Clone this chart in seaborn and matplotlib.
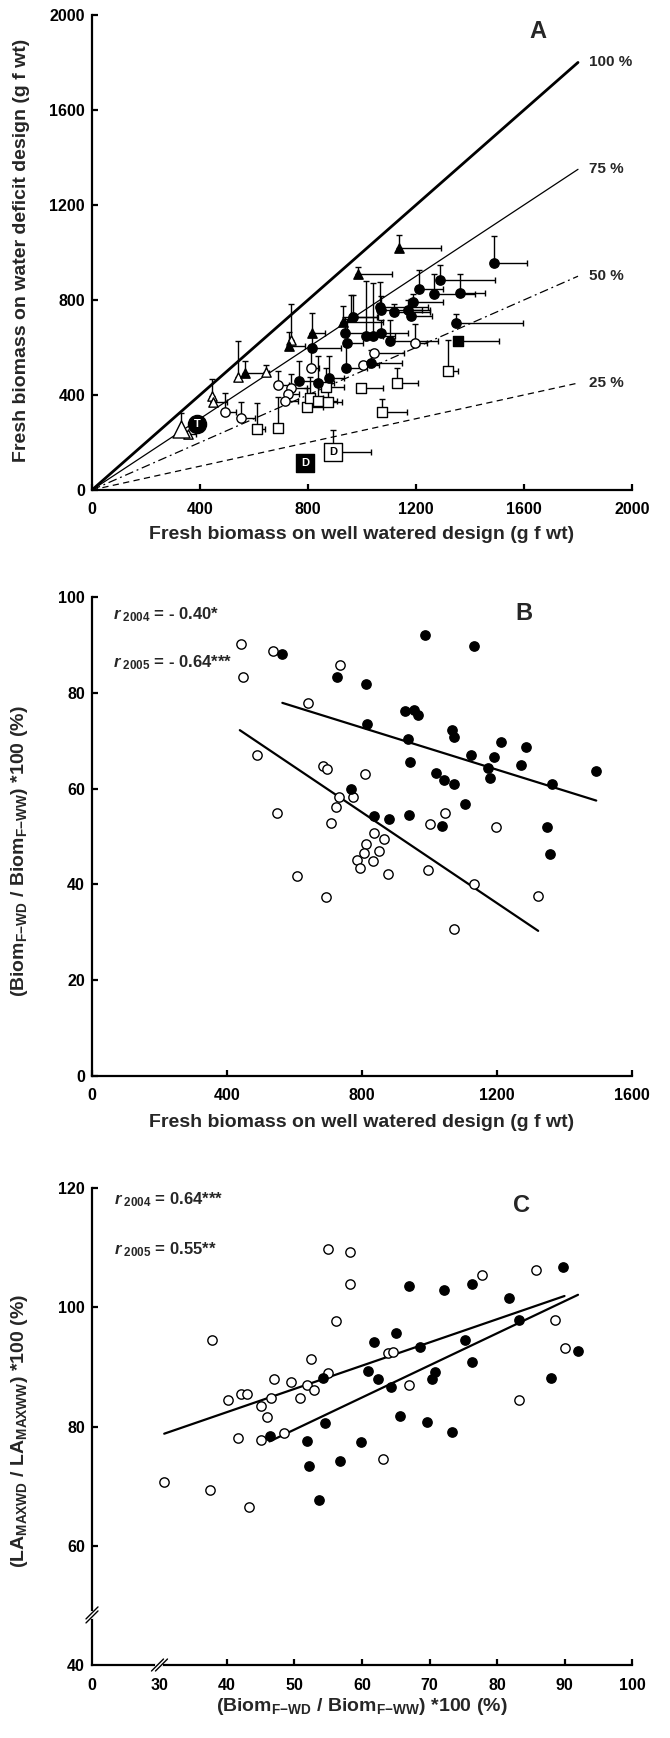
import matplotlib
matplotlib.use('Agg')
import matplotlib.pyplot as plt
import numpy as np
import seaborn as sns

sns.set_theme(style='ticks')
plt.rcParams['font.family'] = ['Liberation Sans', 'DejaVu Sans']
plt.rcParams['font.weight'] = 'bold'
plt.rcParams['mathtext.fontset'] = 'custom'
plt.rcParams['mathtext.rm'] = 'Liberation Sans:bold'
plt.rcParams['mathtext.it'] = 'Liberation Sans:italic:bold'
plt.rcParams['mathtext.bf'] = 'Liberation Sans:bold'

# ---- panel A: fresh biomass WW vs WD (x, y, right error, upper error)
a_fc_x = [768, 837, 879, 813, 939, 1034, 936, 943, 1016, 1041, 1072, 1102, 967,
          1065, 1072, 1120, 1172, 1180, 1190, 1211, 1267, 1288, 1362, 1348, 1490]
a_fc_y = [460, 452, 473, 596, 512, 536, 660, 618, 648, 648, 660, 629, 730,
          769, 758, 751, 758, 734, 793, 845, 825, 884, 831, 702, 954]
a_fc_xe = [70, 60, 55, 110, 80, 115, 130, 60, 60, 80, 100, 180, 90,
           180, 150, 130, 80, 80, 110, 90, 150, 205, 93, 247, 120]
a_fc_ye = [85, 110, 90, 65, 95, 55, 70, 100, 230, 225, 55, 85, 90,
           105, 60, 30, 40, 70, 30, 80, 85, 63, 78, 38, 115]

a_oc_x = [493, 552, 688, 737, 726, 713, 812, 1002, 1046, 1197]
a_oc_y = [330, 305, 442, 428, 404, 375, 512, 526, 575, 620]
a_oc_xe = [40, 52, 40, 60, 40, 50, 30, 60, 110, 45]
a_oc_ye = [77, 67, 60, 60, 0, 0, 80, 0, 0, 77]

a_ft_x = [567, 730, 813, 929, 960, 986, 1136]
a_ft_y = [494, 604, 660, 709, 730, 908, 1018]
a_ft_xe = [90, 60, 50, 150, 100, 124, 157]
a_ft_ye = [50, 60, 85, 65, 90, 32, 54]

a_ot_x = [354, 446, 450, 541, 643, 737]
a_ot_y = [236, 394, 370, 477, 496, 632]
a_ot_xe = [30, 0, 50, 0, 0, 0]
a_ot_ye = [0, 72, 0, 152, 28, 150]
a_ot_big_x = [330]
a_ot_big_y = [257]
a_ot_big_ye = [68]

a_os_x = [610, 690, 795, 807, 837, 875, 865, 996, 1128, 1073, 1320]
a_os_y = [255, 259, 348, 386, 376, 372, 432, 428, 452, 330, 500]
a_os_xe = [31, 0, 62, 50, 70, 50, 68, 83, 81, 92, 37]
a_os_ye = [110, 134, 80, 90, 70, 60, 80, 0, 60, 52, 130]

a_fs_x = [1355]
a_fs_y = [629]
a_fs_xe = [153]

a_t_x, a_t_y = 390, 277
a_dfill_x, a_dfill_y = 790, 112
a_dopen_x, a_dopen_y = 894, 161
a_dopen_xe, a_dopen_ye = 138, 92

ref_pct = [100, 75, 50, 25]
ref_end = 1800

# ---- panel B: relative biomass vs WW biomass
b04_x = [564, 987, 1133, 727, 811, 926, 954, 967, 815, 935, 1066, 1073, 1211, 1286,
         1123, 1191, 1494, 942, 1173, 1270, 1180, 1019, 1042, 1073, 1363, 766, 1104,
         837, 880, 940, 1036, 1349, 1358]
b04_y = [88.1, 92.1, 89.8, 83.2, 81.8, 76.2, 76.4, 75.4, 73.4, 70.3, 72.2, 70.8, 69.7,
         68.6, 67.0, 66.7, 63.7, 65.6, 64.4, 65.0, 62.3, 63.3, 61.8, 60.9, 60.9, 59.9,
         56.7, 54.2, 53.7, 54.5, 52.1, 52.0, 46.3]
b05_x = [442, 537, 447, 736, 640, 490, 684, 697, 809, 733, 772, 724, 549, 709, 1046,
         1000, 1196, 837, 866, 812, 807, 850, 785, 834, 795, 878, 995, 608, 692, 1131,
         1322, 1073]
b05_y = [90.1, 88.7, 83.2, 85.8, 77.8, 67.1, 64.7, 64.0, 63.0, 58.2, 58.2, 56.1, 55.0,
         52.9, 55.0, 52.6, 52.0, 50.8, 49.5, 48.4, 46.5, 47.0, 45.0, 44.9, 43.4, 42.2,
         43.1, 41.7, 37.4, 40.1, 37.6, 30.7]
b04_fit_x = [564, 1494]
b04_fit_y = [77.9, 57.5]
b05_fit_x = [438, 1322]
b05_fit_y = [72.2, 30.3]

# ---- panel C: relative max leaf area vs relative biomass
c04_x = [89.8, 67.0, 72.1, 76.3, 81.8, 83.2, 65.1, 61.8, 75.3, 68.6, 92.0, 76.3, 60.9,
         70.8, 70.4, 54.2, 62.3, 64.3, 88.0, 65.7, 54.5, 69.7, 73.4, 46.3, 51.9, 59.9,
         56.8, 52.1, 53.7]
c04_y = [106.8, 103.6, 102.9, 103.9, 101.5, 97.8, 95.7, 94.1, 94.5, 93.3, 92.7, 90.8,
         89.3, 89.1, 88.0, 88.2, 88.0, 86.6, 88.2, 81.8, 80.6, 80.7, 79.1, 78.4, 77.6,
         77.4, 74.2, 73.3, 67.7]
c05_x = [54.9, 58.2, 58.2, 85.8, 77.8, 56.1, 88.6, 37.8, 90.0, 63.9, 64.6, 52.5, 54.9,
         47.0, 49.5, 51.9, 52.9, 66.9, 42.1, 42.9, 40.1, 46.5, 50.8, 45.0, 45.9, 48.5,
         41.6, 45.0, 83.2, 63.1, 30.6, 37.5, 43.3]
c05_y = [109.7, 109.3, 103.9, 106.3, 105.4, 97.7, 97.8, 94.6, 93.1, 92.4, 92.5, 91.4,
         89.0, 87.9, 87.4, 87.0, 86.2, 87.0, 85.5, 85.4, 84.5, 84.8, 84.8, 83.4, 81.6,
         79.0, 78.1, 77.8, 84.4, 74.5, 70.7, 69.3, 66.5]
c04_fit_x = [46.3, 92.0]
c04_fit_y = [77.5, 102.1]
c05_fit_x = [30.7, 90.0]
c05_fit_y = [78.8, 101.9]

TICK_FS = 11.5
LABEL_FS = 14
R_FS = 12
SPINE_W = 1.6


def style_axes(ax):
    sns.despine(ax=ax)
    for side in ('left', 'bottom'):
        ax.spines[side].set_linewidth(SPINE_W)
        ax.spines[side].set_color('black')
    ax.tick_params(direction='in', length=4, width=SPINE_W, labelsize=TICK_FS,
                   colors='black')
    ax.tick_params(axis='x', pad=9)
    ax.tick_params(axis='y', pad=5)
    for lab in ax.get_xticklabels() + ax.get_yticklabels():
        lab.set_fontweight('bold')
    ax.set_facecolor('white')


def group(ax, x, y, xe, ye, marker, face, size=45):
    n = len(x)
    ax.errorbar(x, y, xerr=[np.zeros(n), xe], yerr=[np.zeros(n), ye], fmt='none',
                ecolor='black', elinewidth=1.0, capsize=2.5, capthick=1.0, zorder=2)
    sns.scatterplot(x=x, y=y, marker=marker, s=size, color=face, edgecolor='black',
                    linewidth=1.0, ax=ax, zorder=3, legend=False)


fig = plt.figure(figsize=(6.7, 17.38), dpi=100)
fig.patch.set_facecolor('white')
ax_a = fig.add_axes([0.1373, 0.7181, 0.806, 0.2733])
ax_b = fig.add_axes([0.1373, 0.3809, 0.806, 0.2756])
ax_c = fig.add_axes([0.1373, 0.0420, 0.806, 0.2744])

# ---------------- A
ax = ax_a
styles = {100: ('-', 2.0), 75: ('-', 0.9), 50: ((0, (7, 3, 1.5, 3)), 0.9), 25: ((0, (5, 3.5)), 0.9)}
for p in ref_pct:
    ls, lw = styles[p]
    sns.lineplot(x=[0, ref_end], y=[0, ref_end * p / 100], ax=ax, color='black',
                 linestyle=ls, linewidth=lw, zorder=1)
    ax.text(ref_end + 40, ref_end * p / 100, f'{p} %', fontsize=11, fontweight='bold',
            va='center', ha='left')
group(ax, a_os_x, a_os_y, a_os_xe, a_os_ye, 's', 'white')
group(ax, a_ot_x, a_ot_y, a_ot_xe, a_ot_ye, '^', 'white')
group(ax, a_ot_big_x, a_ot_big_y, [0], a_ot_big_ye, '^', 'white', size=150)
group(ax, a_oc_x, a_oc_y, a_oc_xe, a_oc_ye, 'o', 'white')
group(ax, a_ft_x, a_ft_y, a_ft_xe, a_ft_ye, '^', 'black')
group(ax, a_fc_x, a_fc_y, a_fc_xe, a_fc_ye, 'o', 'black')
group(ax, a_fs_x, a_fs_y, a_fs_xe, [0], 's', 'black')
group(ax, [a_dopen_x], [a_dopen_y], [a_dopen_xe], [a_dopen_ye], 's', 'white', size=170)
group(ax, [a_dfill_x], [a_dfill_y], [0], [0], 's', 'black', size=170)
group(ax, [a_t_x], [a_t_y], [0], [0], 'o', 'black', size=170)
ax.text(a_t_x, a_t_y, 'T', color='white', fontsize=8, fontweight='bold', ha='center', va='center', zorder=4)
ax.text(a_dfill_x, a_dfill_y, 'D', color='white', fontsize=8, fontweight='bold', ha='center', va='center', zorder=4)
ax.text(a_dopen_x, a_dopen_y, 'D', color='black', fontsize=8, fontweight='bold', ha='center', va='center', zorder=4)
ax.text(1650, 1930, 'A', fontsize=17, fontweight='bold', ha='center', va='center')
ax.set_xlim(0, 2000)
ax.set_ylim(0, 2000)
ax.set_xticks(range(0, 2001, 400))
ax.set_yticks(range(0, 2001, 400))
style_axes(ax)
ax.set_xlabel('Fresh biomass on well watered design (g f wt)', fontsize=LABEL_FS, fontweight='bold')
ax.set_ylabel('Fresh biomass on water deficit design (g f wt)', fontsize=LABEL_FS, fontweight='bold')
ax.xaxis.set_label_coords(0.5, -0.076)
ax.yaxis.set_label_coords(-0.115, 0.505)

# ---------------- B
ax = ax_b
sns.lineplot(x=b04_fit_x, y=b04_fit_y, ax=ax, color='black', linewidth=1.6, zorder=1)
sns.lineplot(x=b05_fit_x, y=b05_fit_y, ax=ax, color='black', linewidth=1.6, zorder=1)
sns.scatterplot(x=b05_x, y=b05_y, marker='o', s=45, color='white', edgecolor='black',
                linewidth=1.0, ax=ax, zorder=3, legend=False)
sns.scatterplot(x=b04_x, y=b04_y, marker='o', s=45, color='black', edgecolor='black',
                linewidth=1.0, ax=ax, zorder=3, legend=False)
ax.text(62, 96.3, r'$r_{\ \mathit{2004}}$ = - 0.40*', fontsize=R_FS, fontweight='bold', va='center')
ax.text(62, 86.2, r'$r_{\ \mathit{2005}}$ = - 0.64***', fontsize=R_FS, fontweight='bold', va='center')
ax.text(1280, 96.5, 'B', fontsize=17, fontweight='bold', ha='center', va='center')
ax.set_xlim(0, 1600)
ax.set_ylim(0, 100)
ax.set_xticks(range(0, 1601, 400))
ax.set_yticks(range(0, 101, 20))
style_axes(ax)
ax.set_xlabel('Fresh biomass on well watered design (g f wt)', fontsize=LABEL_FS, fontweight='bold')
ax.set_ylabel(r'(Biom$_{\mathrm{F{-}WD}}$ / Biom$_{\mathrm{F{-}WW}}$) *100 (%)',
              fontsize=LABEL_FS, fontweight='bold')
ax.xaxis.set_label_coords(0.5, -0.079)
ax.yaxis.set_label_coords(-0.115, 0.47)

# ---------------- C
ax = ax_c
sns.lineplot(x=c04_fit_x, y=c04_fit_y, ax=ax, color='black', linewidth=1.6, zorder=1)
sns.lineplot(x=c05_fit_x, y=c05_fit_y, ax=ax, color='black', linewidth=1.6, zorder=1)
sns.scatterplot(x=c05_x, y=c05_y, marker='o', s=45, color='white', edgecolor='black',
                linewidth=1.0, ax=ax, zorder=3, legend=False)
sns.scatterplot(x=c04_x, y=c04_y, marker='o', s=45, color='black', edgecolor='black',
                linewidth=1.0, ax=ax, zorder=3, legend=False)
ax.text(23.3, 118.1, r'$r_{\ \mathit{2004}}$ = 0.64***', fontsize=R_FS, fontweight='bold', va='center')
ax.text(23.3, 109.7, r'$r_{\ \mathit{2005}}$ = 0.55**', fontsize=R_FS, fontweight='bold', va='center')
ax.text(83.6, 117, 'C', fontsize=17, fontweight='bold', ha='center', va='center')
ax.set_xlim(20, 100)
ax.set_ylim(40, 120)
ax.set_xticks(range(20, 101, 10))
ax.set_xticklabels(['0'] + [str(v) for v in range(30, 101, 10)])
ax.set_yticks(range(40, 121, 20))
style_axes(ax)
xt = ax.xaxis.get_major_ticks()
xt[0].tick1line.set_visible(False)
xt[1].tick1line.set_visible(False)
ax.yaxis.get_major_ticks()[0].tick1line.set_visible(False)
ax.set_xlabel(r'(Biom$_{\mathrm{F{-}WD}}$ / Biom$_{\mathrm{F{-}WW}}$) *100 (%)',
              fontsize=LABEL_FS, fontweight='bold')
ax.set_ylabel(r'(LA$_{\mathrm{MAXWD}}$ / LA$_{\mathrm{MAXWW}}$) *100 (%)',
              fontsize=LABEL_FS, fontweight='bold')
ax.xaxis.set_label_coords(0.5, -0.066)
ax.yaxis.set_label_coords(-0.115, 0.49)

# axis break marks
w_px, h_px = 540.0, 477.0
dx, dy = 6 / w_px, 6 / h_px
gap = 4 / w_px
bx = 0.125
ax.plot([bx - gap / 2, bx + gap / 2], [0, 0], color='white', lw=3, transform=ax.transAxes,
        clip_on=False, zorder=5)
for off in (-gap / 2, gap / 2):
    ax.plot([bx + off - dx, bx + off + dx], [-dy, dy], color='black', lw=1.0,
            transform=ax.transAxes, clip_on=False, zorder=6)
by = 0.105
gy = 4 / h_px
ax.plot([0, 0], [by - gy / 2, by + gy / 2], color='white', lw=3, transform=ax.transAxes,
        clip_on=False, zorder=5)
for off in (-gy / 2, gy / 2):
    ax.plot([-dx, dx], [by + off - dy, by + off + dy], color='black', lw=1.0,
            transform=ax.transAxes, clip_on=False, zorder=6)

fig.savefig('out.png', dpi=100, facecolor='white')
